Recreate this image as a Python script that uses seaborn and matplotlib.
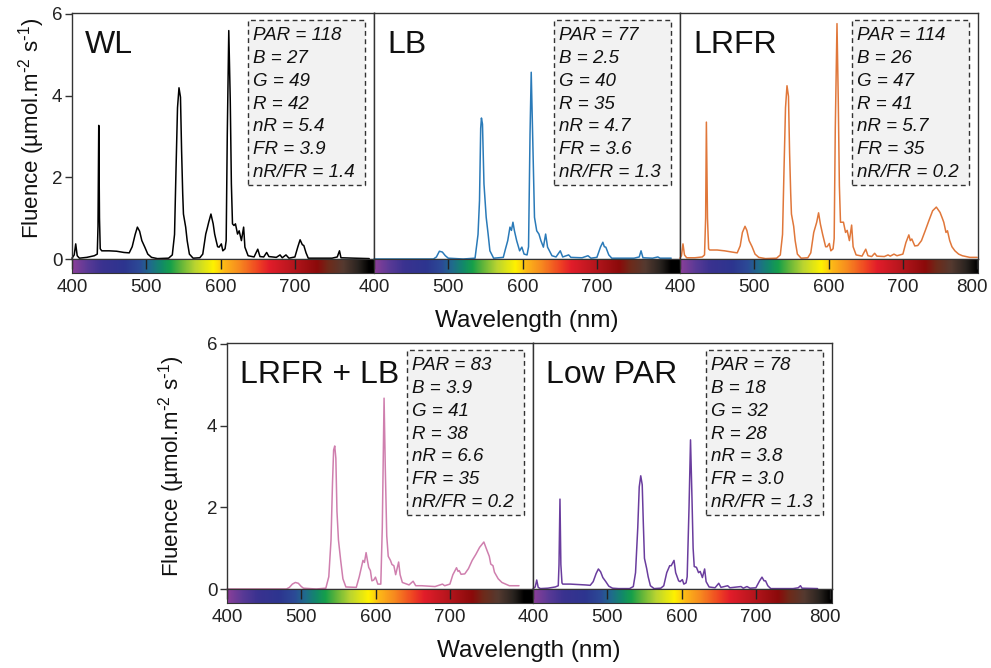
import numpy as np
import pandas as pd
import matplotlib
matplotlib.use("Agg")
import matplotlib.pyplot as plt
import matplotlib.transforms as mtransforms
import seaborn as sns
from matplotlib.colors import LinearSegmentedColormap
from matplotlib.patches import Rectangle

# ---------------- data ----------------
wl_WL = [400, 403, 405, 407, 410, 420, 430, 434, 435, 436, 437, 438, 440, 450, 460, 470, 477, 481, 485, 488,
         491, 494, 498, 502, 507, 515, 530, 535, 538, 540, 542, 544, 546, 547.5, 549, 550, 553, 555, 558, 563,
         572, 576, 580, 582, 584, 587, 590, 592, 594, 596, 598, 601, 603, 606, 607.5, 609, 611, 613, 614.5, 616,
         618, 620, 622.8, 625, 628, 631, 632.7, 637, 645, 650, 653, 658, 662, 665, 675, 680, 683, 688, 692, 700,
         704, 707, 710, 712, 715, 718, 730, 750, 757, 760, 762, 780, 800]
fl_WL = [0.02, 0.1, 0.37, 0.08, 0.02, 0.04, 0.08, 0.12, 0.8, 3.27, 1.0, 0.25, 0.2, 0.2, 0.19, 0.16, 0.15, 0.3, 0.6, 0.78,
         0.68, 0.45, 0.29, 0.12, 0.04, 0.01, 0.02, 0.1, 0.6, 2.2, 3.7, 4.19, 3.96, 2.65, 1.6, 1.1, 0.78, 0.45, 0.12, 0.02,
         0.03, 0.12, 0.61, 0.75, 0.9, 1.1, 0.86, 0.61, 0.45, 0.3, 0.29, 0.37, 0.2, 0.25, 0.45, 3.06, 5.59, 3.88, 1.84, 0.86,
         0.82, 0.86, 0.61, 0.69, 0.45, 0.78, 0.29, 0.08, 0.05, 0.24, 0.06, 0.05, 0.16, 0.06, 0.04, 0.1, 0.03, 0.1, 0.02, 0.05,
         0.3, 0.47, 0.35, 0.33, 0.15, 0.02, 0.02, 0.02, 0.05, 0.2, 0.03, 0.02, 0.01]

wl_LB = [400, 480, 484, 488, 492, 496, 500, 520, 536, 540, 542, 543.6, 544.6, 546, 548, 551, 553.6, 556, 561, 574,
         577, 580, 583, 585, 587, 589, 592, 596, 599, 602, 606, 608, 610, 611.6, 614, 616, 619, 622, 624.6, 628,
         631, 633.6, 639.5, 645, 650.7, 654, 662, 665, 680, 688, 692, 700, 705, 708, 710, 712, 716, 720, 750, 757,
         759.4, 762, 775, 782, 785, 800]
fl_LB = [0.0, 0.0, 0.05, 0.19, 0.17, 0.08, 0.02, 0.0, 0.02, 0.6, 1.43, 3.2, 3.45, 3.3, 1.84, 1.02, 0.61, 0.2, 0.02, 0.04,
         0.25, 0.45, 0.78, 0.7, 0.9, 0.69, 0.45, 0.2, 0.29, 0.12, 0.1, 0.3, 3.06, 4.57, 2.65, 1.02, 0.69, 0.61, 0.45, 0.29,
         0.61, 0.29, 0.08, 0.05, 0.2, 0.05, 0.1, 0.04, 0.03, 0.08, 0.02, 0.04, 0.3, 0.41, 0.3, 0.29, 0.1, 0.02, 0.02, 0.05,
         0.2, 0.03, 0.02, 0.05, 0.02, 0.02]

wl_LRFR = [400, 402, 404, 406, 409, 420, 430, 433, 434.5, 435.5, 437, 438.5, 440, 450, 460, 470, 477, 481, 484, 487.5,
           490, 493, 497, 501, 506, 515, 530, 535, 538, 540, 542, 544, 546, 547.5, 549, 550, 553, 555, 558, 563,
           572, 576, 580, 584, 586.5, 589, 592, 594, 596, 598, 601, 603, 606, 607.5, 609, 611.3, 613, 614.5, 616, 620,
           622.8, 625, 628, 631, 633, 637, 645, 650, 653, 658, 662, 665, 675, 680, 683, 688, 692, 700, 704, 708,
           710, 712, 716, 720, 725, 730, 735, 740, 745, 750, 753, 755, 758, 760, 763, 766, 770, 775, 780, 790, 800]
fl_LRFR = [0.02, 0.08, 0.37, 0.1, 0.03, 0.03, 0.05, 0.1, 1.0, 3.35, 1.0, 0.25, 0.22, 0.22, 0.2, 0.17, 0.15, 0.32, 0.65, 0.8,
           0.7, 0.45, 0.3, 0.12, 0.04, 0.01, 0.02, 0.1, 0.6, 2.2, 3.7, 4.24, 3.98, 2.6, 1.6, 1.1, 0.8, 0.45, 0.12, 0.02,
           0.03, 0.15, 0.65, 0.9, 1.13, 0.85, 0.6, 0.45, 0.3, 0.3, 0.38, 0.2, 0.25, 0.5, 3.2, 5.76, 3.9, 1.8, 0.9, 0.9,
           0.65, 0.7, 0.45, 0.83, 0.3, 0.1, 0.07, 0.24, 0.08, 0.06, 0.14, 0.07, 0.06, 0.1, 0.07, 0.12, 0.08, 0.12, 0.4, 0.59,
           0.45, 0.49, 0.32, 0.33, 0.45, 0.69, 0.94, 1.18, 1.27, 1.14, 1.0, 0.9, 0.65, 0.69, 0.45, 0.3, 0.2, 0.12, 0.08, 0.04, 0.04]

wl_LRFRLB = [400, 480, 484, 488, 492, 496, 500, 503, 520, 533, 537, 540, 542, 543.5, 545, 546.5, 548, 550, 553, 556,
             560, 574, 578, 583, 585, 587.2, 589, 590.7, 593, 595, 597.5, 599.8, 603, 607, 609, 611.4, 613, 615, 617, 620,
             622, 624.6, 627, 631, 633, 636, 645, 650.5, 654, 662, 680, 690, 693, 700, 704, 708.9, 711, 712.5, 715, 720,
             725, 730, 735, 740, 745.7, 750, 753, 755, 758, 760, 765, 770, 780, 790, 793]
fl_LRFRLB = [0.0, 0.0, 0.04, 0.12, 0.16, 0.14, 0.06, 0.02, 0.0, 0.02, 0.3, 1.2, 2.6, 3.4, 3.5, 3.2, 1.9, 1.2, 0.7, 0.25,
             0.05, 0.04, 0.3, 0.7, 0.65, 0.89, 0.7, 0.53, 0.45, 0.2, 0.22, 0.29, 0.12, 0.12, 1.5, 4.67, 3.0, 1.3, 0.8, 0.7,
             0.6, 0.57, 0.35, 0.66, 0.35, 0.16, 0.1, 0.19, 0.08, 0.08, 0.06, 0.12, 0.08, 0.12, 0.35, 0.52, 0.43, 0.45, 0.36, 0.37,
             0.5, 0.7, 0.85, 1.02, 1.15, 0.94, 0.8, 0.61, 0.57, 0.41, 0.25, 0.16, 0.08, 0.08, 0.08]

wl_LowPAR = [400, 403, 405, 407, 410, 420, 430, 434, 435, 436.3, 437.5, 439, 440, 450, 460, 470, 477, 481, 485, 488,
             491, 494, 498, 502, 507, 515, 530, 535, 538, 541, 543, 545, 547, 548.5, 550, 553, 555, 558, 563, 572,
             576, 580, 584, 586, 589.8, 592, 594, 596, 598, 601, 603, 606, 607.5, 610, 612, 614, 615.5, 617, 620, 622.8,
             625, 628, 631, 633, 637, 645, 650, 653, 662, 665, 680, 683, 688, 692, 700, 705, 708.2, 711, 713, 716,
             720, 750, 757, 760, 762, 783]
fl_LowPAR = [0.01, 0.05, 0.22, 0.04, 0.01, 0.02, 0.05, 0.08, 0.6, 2.2, 0.6, 0.15, 0.12, 0.12, 0.11, 0.1, 0.09, 0.18, 0.38, 0.49,
             0.42, 0.28, 0.18, 0.07, 0.02, 0.01, 0.01, 0.06, 0.4, 1.5, 2.5, 2.77, 2.55, 1.6, 0.75, 0.5, 0.3, 0.08, 0.01, 0.02,
             0.08, 0.4, 0.57, 0.57, 0.7, 0.4, 0.3, 0.2, 0.18, 0.23, 0.12, 0.15, 0.3, 2.0, 3.65, 2.2, 1.0, 0.55, 0.53, 0.4,
             0.43, 0.28, 0.49, 0.18, 0.05, 0.03, 0.14, 0.04, 0.08, 0.03, 0.06, 0.02, 0.06, 0.02, 0.03, 0.2, 0.29, 0.2, 0.2, 0.08,
             0.01, 0.01, 0.03, 0.08, 0.02, 0.01]

panel_names = ["WL", "LB", "LRFR", "LRFR + LB", "Low PAR"]
box_WL = ["PAR = 118", "B = 27", "G = 49", "R = 42", "nR = 5.4", "FR = 3.9", "nR/FR = 1.4"]
box_LB = ["PAR = 77", "B = 2.5", "G = 40", "R = 35", "nR = 4.7", "FR = 3.6", "nR/FR = 1.3"]
box_LRFR = ["PAR = 114", "B = 26", "G = 47", "R = 41", "nR = 5.7", "FR = 35", "nR/FR = 0.2"]
box_LRFRLB = ["PAR = 83", "B = 3.9", "G = 41", "R = 38", "nR = 6.6", "FR = 35", "nR/FR = 0.2"]
box_LowPAR = ["PAR = 78", "B = 18", "G = 32", "R = 28", "nR = 3.8", "FR = 3.0", "nR/FR = 1.3"]
y_ticks = [0, 2, 4, 6]
x_ticks = [400, 500, 600, 700, 800]

# spectrum colour bar anchors (wavelength, colour)
spec_wl = [400, 420, 440, 470, 490, 505, 520, 532, 545, 565, 590, 605, 625, 650, 665, 700, 730, 745, 765, 785, 800]
spec_col = ["#8a3f99", "#5a3a96", "#3a3290", "#2d358f", "#2c4a96", "#1f6c8b", "#128a68", "#16a04a", "#5cb33b",
            "#b9d431", "#fff200", "#fdb718", "#f7891f", "#ef4323", "#e21d2a", "#b2151c", "#8b0a0a", "#6e2a1a",
            "#553a30", "#2a2420", "#000000"]

# ---------------- style ----------------
sns.set_theme(style="ticks")
plt.rcParams["font.family"] = ["Liberation Sans", "DejaVu Sans"]
plt.rcParams["mathtext.default"] = "regular"
SPINE = "#333333"

W, H = 991, 668
fig = plt.figure(figsize=(W / 100, H / 100), dpi=100)


def rect(x0, y0, w, h):
    return [x0 / W, 1 - (y0 + h) / H, w / W, h / H]


PX_PER_NM = 0.743
AX_H = 246
CB_H = 14

panels = [
    dict(name="WL", wl=wl_WL, fl=fl_WL, color="#000000", box=box_WL, left=72, top=13, width=302, first=True, last=False),
    dict(name="LB", wl=wl_LB, fl=fl_LB, color="#2a7ab8", box=box_LB, left=374, top=13, width=306, first=False, last=False),
    dict(name="LRFR", wl=wl_LRFR, fl=fl_LRFR, color="#e0773a", box=box_LRFR, left=680, top=13, width=298, first=False, last=True),
    dict(name="LRFR + LB", wl=wl_LRFRLB, fl=fl_LRFRLB, color="#cf7fae", box=box_LRFRLB, left=227, top=343, width=306, first=True, last=False),
    dict(name="Low PAR", wl=wl_LowPAR, fl=fl_LowPAR, color="#6a3d9e", box=box_LowPAR, left=533, top=343, width=299, first=False, last=True),
]

cmap = LinearSegmentedColormap.from_list(
    "spec", [((w - 400) / 400, c) for w, c in zip(spec_wl, spec_col)])
grad = np.linspace(400, 800, 800).reshape(1, -1)

for p in panels:
    xmax = 400 + p["width"] / PX_PER_NM
    ax = fig.add_axes(rect(p["left"], p["top"], p["width"], AX_H))
    df = pd.DataFrame({"wl": p["wl"], "fl": p["fl"]})
    sns.lineplot(data=df, x="wl", y="fl", ax=ax, color=p["color"], linewidth=1.1,
                 estimator=None, sort=False, clip_on=False)
    ax.set_xlim(400, xmax)
    ax.set_ylim(0, 6.02)
    ax.set_xlabel("")
    ax.set_ylabel("")
    ax.set_yticks(y_ticks)
    ax.tick_params(axis="x", bottom=False, labelbottom=False)
    if p["first"]:
        ax.tick_params(axis="y", left=True, labelleft=True, direction="out", length=5, width=1,
                       color=SPINE, labelsize=13.5, pad=2, labelcolor="#222222")
    else:
        ax.tick_params(axis="y", left=False, labelleft=False)
    for s in ax.spines.values():
        s.set_visible(True)
        s.set_color(SPINE)
        s.set_linewidth(1.0)

    # panel label
    ax.text(13 / p["width"], 1 - 40 / AX_H, p["name"], transform=ax.transAxes,
            fontsize=23, ha="left", va="baseline", color="#111111")

    # dashed info box
    bw, bh = 117, 165
    bx = 1 - (9 + bw) / p["width"]
    by = 1 - (7 + bh) / AX_H
    ax.add_patch(Rectangle((bx, by), bw / p["width"], bh / AX_H, transform=ax.transAxes,
                           facecolor="#f2f2f2", edgecolor="#333333", linewidth=1.0,
                           linestyle=(0, (3.5, 2.5)), zorder=3))
    for i, line in enumerate(p["box"]):
        ax.text(bx + 5 / p["width"], 1 - (27.5 + i * 22.7) / AX_H, line, transform=ax.transAxes,
                fontsize=13.5, style="italic", ha="left", va="baseline", color="#111111", zorder=4)

    # colour bar below
    cax = fig.add_axes(rect(p["left"], p["top"] + AX_H, p["width"], CB_H))
    cax.set_facecolor("black")
    cax.imshow(grad, cmap=cmap, aspect="auto", extent=[400, 800, 0, 1], interpolation="bilinear")
    cax.set_xlim(400, xmax)
    cax.set_ylim(0, 1)
    cax.set_yticks([])
    ticks = x_ticks if p["last"] else x_ticks[:-1]
    cax.set_xticks(ticks)
    cax.set_xticklabels([str(t) for t in ticks])
    cax.tick_params(axis="x", top=True, bottom=False, labeltop=False, labelbottom=True,
                    direction="in", length=7, width=1, color="#222222", labelsize=13.5, pad=4,
                    labelcolor="#222222")
    if p["last"]:
        lab = cax.get_xticklabels()[-1]
        lab.set_transform(lab.get_transform() + mtransforms.ScaledTranslation(-5 / 100, 0, fig.dpi_scale_trans))
    for s in cax.spines.values():
        s.set_visible(True)
        s.set_color(SPINE)
        s.set_linewidth(0.8)

ylab = r"Fluence (µmol.m$^{\text{-}2}$ s$^{\text{-}1}$)"
fig.text(32 / W, 1 - 128 / H, ylab, rotation=90, ha="center", va="center", fontsize=16, color="#111111")
fig.text(172 / W, 1 - 466 / H, ylab, rotation=90, ha="center", va="center", fontsize=16, color="#111111")
fig.text(527 / W, 1 - 321 / H, "Wavelength (nm)", ha="center", va="center", fontsize=17.5, color="#111111")
fig.text(529 / W, 1 - 651 / H, "Wavelength (nm)", ha="center", va="center", fontsize=17.5, color="#111111")

fig.savefig("out.png", dpi=100)
